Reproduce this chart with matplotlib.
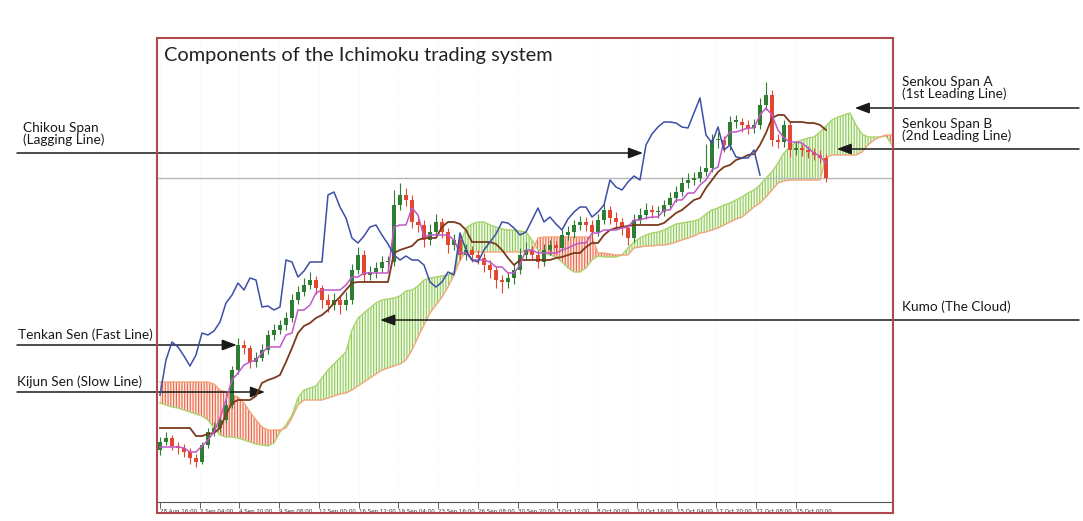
import numpy as np
import matplotlib
matplotlib.use("Agg")
import matplotlib.pyplot as plt
from matplotlib.patches import Rectangle

plt.rcParams['font.family'] = ['Lato', 'DejaVu Sans']
plt.rcParams['hatch.linewidth'] = 0.8

# prices are stored in pips above BASE
BASE = 1.3000
PIP = 0.0001

first_open = 50
close_pips = [58, 62, 54, 52, 48, 42, 38, 55, 68, 72,
              80, 95, 130, 155, 152, 138, 142, 150, 165, 170,
              175, 182, 200, 208, 215, 220, 212, 200, 195, 200,
              195, 200, 230, 245, 225, 228, 232, 238, 238, 295,
              305, 300, 278, 275, 260, 268, 278, 268, 255, 260,
              245, 250, 245, 242, 235, 230, 220, 218, 222, 230,
              245, 250, 245, 238, 250, 255, 252, 265, 268, 275,
              278, 275, 268, 280, 290, 282, 278, 272, 262, 280,
              285, 290, 288, 288, 295, 302, 308, 317, 320, 322,
              328, 332, 360, 360, 355, 378, 378, 375, 372, 375,
              395, 405, 360, 358, 375, 350, 352, 350, 348, 345,
              342, 322]
high_pips = [63, 68, 65, 58, 56, 52, 46, 58, 72, 78,
             84, 100, 134, 162, 160, 155, 148, 156, 170, 176,
             180, 188, 206, 214, 222, 228, 224, 215, 206, 207,
             204, 208, 236, 253, 250, 234, 238, 244, 244, 310,
             317, 312, 305, 284, 280, 276, 286, 282, 272, 266,
             264, 256, 254, 250, 247, 240, 234, 225, 228, 236,
             252, 258, 254, 250, 256, 260, 259, 270, 274, 280,
             284, 283, 280, 286, 296, 294, 288, 282, 276, 286,
             292, 297, 295, 294, 300, 308, 314, 323, 327, 328,
             334, 356, 366, 368, 364, 384, 385, 382, 380, 381,
             402, 418, 410, 366, 380, 378, 358, 356, 354, 352,
             350, 346]
low_pips = [45, 55, 50, 46, 43, 36, 33, 36, 52, 64,
            68, 77, 92, 126, 146, 132, 133, 139, 146, 160,
            166, 170, 178, 196, 204, 211, 206, 192, 188, 190,
            186, 190, 196, 226, 218, 220, 222, 228, 232, 234,
            290, 294, 272, 268, 253, 255, 264, 262, 247, 250,
            240, 240, 238, 236, 228, 222, 212, 207, 212, 216,
            226, 240, 240, 232, 234, 245, 246, 248, 260, 262,
            270, 269, 258, 264, 276, 276, 272, 265, 255, 258,
            276, 281, 282, 282, 284, 291, 298, 304, 312, 315,
            318, 324, 328, 352, 348, 350, 372, 368, 366, 367,
            371, 390, 354, 352, 353, 343, 345, 344, 342, 340,
            337, 318]
tenkan_pips = [53, 53, 53, 53, 52, 48, 48, 54, 60, 68,
               82, 100, 120, 127, 135, 138, 140, 147, 153, 153,
               153, 165, 167, 190, 190, 195, 207, 210, 210, 210,
               210, 215, 223, 223, 227, 227, 227, 227, 227, 273,
               275, 275, 292, 285, 263, 265, 265, 265, 265, 260,
               247, 247, 240, 240, 240, 238, 233, 233, 227, 227,
               235, 250, 250, 247, 247, 247, 247, 250, 252, 255,
               257, 257, 267, 267, 270, 270, 270, 272, 273, 280,
               280, 282, 283, 283, 290, 290, 300, 300, 307, 307,
               315, 320, 330, 333, 360, 368, 368, 370, 372, 372,
               385, 392, 385, 370, 362, 358, 358, 357, 352, 347,
               344, 337]
kijun_pips = [72, 72, 72, 72, 72, 72, 64, 64, 66, 67,
              72, 85, 97, 100, 100, 100, 104, 117, 120, 122,
              125, 138, 152, 167, 174, 177, 182, 185, 190, 197,
              203, 210, 217, 218, 218, 218, 218, 218, 218, 247,
              250, 252, 254, 260, 262, 262, 262, 273, 278, 278,
              276, 270, 258, 258, 258, 258, 256, 250, 242, 235,
              240, 240, 240, 240, 240, 240, 242, 243, 245, 247,
              247, 253, 257, 257, 265, 270, 272, 273, 274, 275,
              275, 275, 275, 275, 277, 282, 287, 290, 295, 300,
              302, 312, 320, 328, 333, 335, 340, 342, 345, 346,
              355, 367, 382, 385, 385, 378, 378, 378, 377, 377,
              375, 370]
chikou_pips = [105, 140, 158, 153, 144, 134, 145, 167, 165, 169,
               178, 197, 205, 217, 210, 222, 220, 193, 194, 190,
               193, 240, 238, 223, 229, 238, 238, 238, 305, 308,
               293, 282, 262, 257, 264, 273, 275, 265, 256, 245,
               240, 244, 240, 240, 235, 218, 213, 218, 228, 225,
               267, 250, 240, 238, 250, 258, 266, 278, 277, 272,
               265, 268, 280, 292, 278, 283, 276, 270, 281, 288,
               293, 293, 283, 288, 295, 320, 313, 310, 318, 324,
               320, 355, 366, 373, 378, 378, 377, 373, 372, 387,
               402, 365, 357, 373, 350, 355, 343, 342, 342, 350,
               325]
span_a_pips = [97, 95, 93, 92, 90, 88, 86, 84, 80, 72,
               65, 63, 63, 62, 60, 58, 56, 55, 54, 57,
               68, 75, 85, 102, 110, 112, 114, 122, 130, 136,
               142, 148, 170, 182, 187, 192, 197, 200, 201, 202,
               204, 209, 210, 214, 220, 222, 223, 224, 225, 228,
               255, 272, 276, 278, 278, 275, 273, 271, 270, 270,
               269, 268, 260, 250, 247, 245, 243, 238, 232, 228,
               228, 232, 240, 244, 243, 243, 243, 245, 252, 258,
               262, 265, 267, 268, 270, 273, 276, 277, 278, 279,
               281, 286, 290, 292, 295, 297, 300, 303, 307, 310,
               315, 322, 328, 337, 347, 353, 358, 360, 362, 363,
               368, 374, 380, 383, 385, 387, 375, 366, 363, 363,
               363, 364, 355]
span_b_pips = [118, 118, 118, 118, 118, 118, 118, 118, 118, 116,
               110, 108, 105, 103, 97, 88, 80, 73, 70, 70,
               70, 72, 82, 95, 100, 100, 100, 100, 102, 104,
               106, 107, 110, 114, 118, 122, 126, 130, 132, 134,
               136, 140, 150, 163, 175, 187, 195, 203, 213, 225,
               240, 248, 248, 248, 248, 248, 248, 248, 248, 248,
               248, 248, 248, 262, 263, 263, 263, 263, 263, 263,
               263, 263, 263, 247, 247, 246, 245, 245, 245, 252,
               253, 254, 254, 255, 255, 256, 258, 260, 262, 264,
               267, 268, 270, 272, 275, 278, 281, 283, 288, 293,
               297, 303, 310, 317, 319, 320, 320, 320, 320, 320,
               320, 342, 345, 345, 345, 345, 345, 348, 355, 360,
               363, 365, 365]
last_price_pips = 322

date_labels = ['28 Aug 16:00', '2 Sep 04:00', '4 Sep 20:00', '9 Sep 08:00',
               '12 Sep 00:00', '16 Sep 12:00', '19 Sep 04:00', '23 Sep 16:00',
               '26 Sep 08:00', '30 Sep 20:00', '3 Oct 12:00', '8 Oct 00:00',
               '10 Oct 16:00', '15 Oct 04:00', '17 Oct 20:00', '22 Oct 08:00',
               '25 Oct 00:00']
candles_per_label = 6.625

# (text, text x px, text centre y px, arrow tail x px, tip index, tip pips)
callouts = [
    ("Chikou Span\n(Lagging Line)", 23, 134, 17, 80.5, 347),
    ("Tenkan Sen (Fast Line)", 18, 335, 17, 12.8, 155),
    ("Kijun Sen (Slow Line)", 17, 382, 17, 17.5, 108),
    ("Senkou Span A\n(1st Leading Line)", 902, 88, 1079, 115.8, 392),
    ("Senkou Span B\n(2nd Leading Line)", 902, 130, 1079, 112.8, 351),
    ("Kumo (The Cloud)", 902, 307, 1079, 36.7, 180),
]


def to_price(p):
    return BASE + np.asarray(p, dtype=float) * PIP


W, H = 1083, 521
fig = plt.figure(figsize=(W / 100, H / 100), dpi=100)
fig.patch.set_facecolor('white')
ax = fig.add_axes([158 / W, 1 - 502 / H, (893 - 158) / W, (502 - 38) / H])

close = to_price(close_pips)
opens = to_price([first_open] + close_pips[:-1])
high = to_price(high_pips)
low = to_price(low_pips)
idx = np.arange(len(close))

# cloud
span_a = to_price(span_a_pips)
span_b = to_price(span_b_pips)
cx = np.arange(len(span_a))
ax.fill_between(cx, span_a, span_b, where=span_a >= span_b, interpolate=True,
                facecolor='#f2f9e8', edgecolor='#8ccb5a', hatch='||||||', linewidth=0, zorder=1)
ax.fill_between(cx, span_a, span_b, where=span_a < span_b, interpolate=True,
                facecolor='#fde9e2', edgecolor='#ea6446', hatch='||||||', linewidth=0, zorder=1)
ax.plot(cx, span_a, color='#a9d46c', lw=1.0, zorder=2)
ax.plot(cx, span_b, color='#f2a57a', lw=1.0, zorder=2)

ax.axhline(to_price(last_price_pips), color='#b8b8b8', lw=1.0, zorder=1.5)

# candles
up = close >= opens
body_lo = np.minimum(opens, close)
body_h = np.maximum(np.abs(close - opens), 1.5 * PIP)
colors = np.where(up, '#2f7d32', '#e4472f')
ax.vlines(idx, low, high, colors=colors, lw=0.8, zorder=3)
ax.bar(idx, body_h, bottom=body_lo, width=0.55, color=colors, linewidth=0, zorder=3)

# ichimoku lines
ax.plot(idx, to_price(kijun_pips), color='#7b3a1e', lw=1.3, zorder=4)
ax.plot(idx, to_price(tenkan_pips), color='#c257c8', lw=1.1, zorder=4)
ax.plot(np.arange(len(chikou_pips)), to_price(chikou_pips), color='#3d4ea6', lw=1.1, zorder=4)

ax.set_xlim(-0.33, 122.17)
ax.set_ylim(to_price(-2), to_price(462))

ax.set_yticks([])
ticks = np.arange(len(date_labels)) * candles_per_label
ax.set_xticks(ticks)
ax.set_xticklabels(date_labels, ha='left', fontsize=4, color='#333333', family='DejaVu Sans')
ax.tick_params(axis='x', direction='out', length=4, width=0.6, color='#444444', pad=1.2)
for s in ['left', 'right', 'top']:
    ax.spines[s].set_visible(False)
ax.spines['bottom'].set_color('#555555')
ax.spines['bottom'].set_linewidth(0.8)
ax.grid(True, color='#f0f0f0', lw=0.5, ls=':')
ax.set_axisbelow(True)

# chart window frame
fig.add_artist(Rectangle((157 / W, 1 - 513 / H), (893 - 157) / W, (513 - 38) / H,
                         transform=fig.transFigure, fill=False, edgecolor='#b0494b', lw=1.5))

fig.text(164 / W, 1 - 55 / H, "Components of the Ichimoku trading system",
         fontsize=14.4, va='center', ha='left', color='#222222')

for text, tx, ty, tail_x, tip_i, tip_p in callouts:
    fig.text(tx / W, 1 - ty / H, text, fontsize=9.8, va='center', ha='left',
             color='#1a1a1a', linespacing=1.0)
    ax.annotate('', xy=(tip_i, to_price(tip_p)), xycoords='data',
                xytext=(tail_x / W, to_price(tip_p)), textcoords=('figure fraction', 'data'),
                arrowprops=dict(arrowstyle='-|>,head_length=0.8,head_width=0.3',
                                color='#1a1a1a', lw=1.1, mutation_scale=11,
                                shrinkA=0, shrinkB=0),
                annotation_clip=False)

fig.savefig('out.png', dpi=100)
